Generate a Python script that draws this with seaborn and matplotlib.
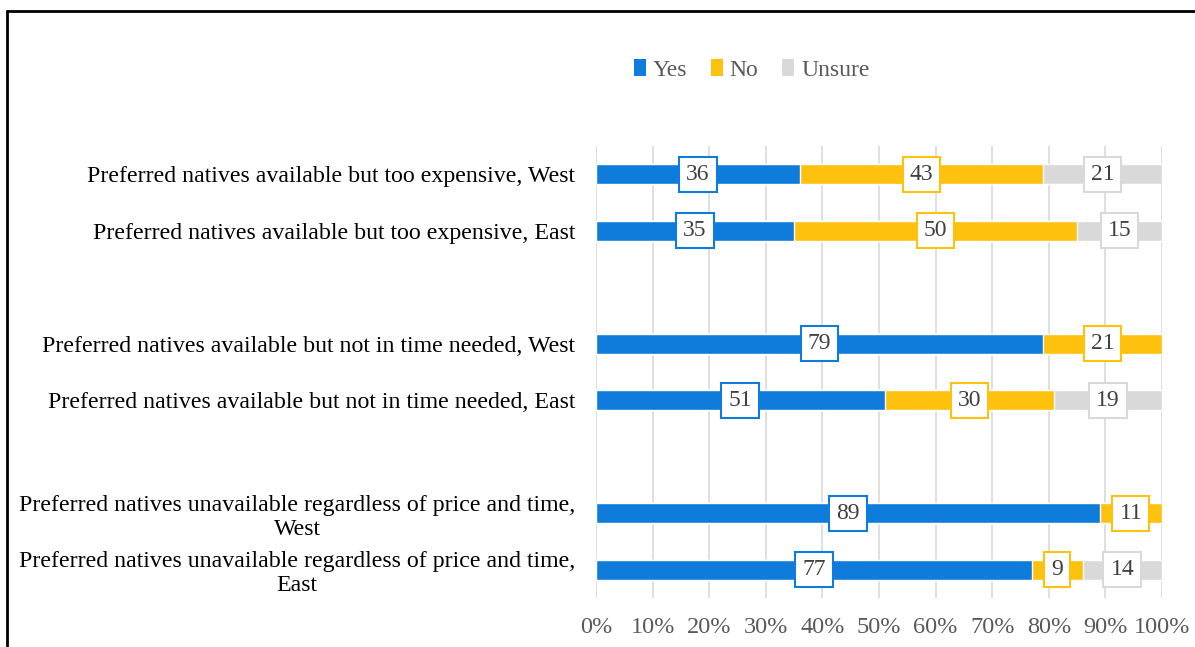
import pandas as pd
import seaborn as sns
import matplotlib.pyplot as plt
from matplotlib.lines import Line2D
from matplotlib.patches import Patch

# ---- data ----
rows = [
    "Preferred natives available but too expensive, West",
    "Preferred natives available but too expensive, East",
    " ",
    "Preferred natives available but not in time needed, West",
    "Preferred natives available but not in time needed, East",
    "  ",
    "Preferred natives unavailable regardless of price and time,\nWest",
    "Preferred natives unavailable regardless of price and time,\nEast",
]
categories = [r for r in rows if r.strip()]
yes = [36, 35, 79, 51, 89, 77]
no = [43, 50, 21, 30, 11, 9]
unsure = [21, 15, 0, 19, 0, 14]

series = ["Yes", "No", "Unsure"]
colors = {"Yes": "#0F7CDB", "No": "#FEC20E", "Unsure": "#D9D9D9"}

df = pd.DataFrame({"category": categories, "Yes": yes, "No": no, "Unsure": unsure})
df["cum_yes"] = df["Yes"]
df["cum_no"] = df["Yes"] + df["No"]
df["cum_unsure"] = df["cum_no"] + df["Unsure"]

sns.set_style("white")
plt.rcParams["font.family"] = ["Liberation Serif", "DejaVu Serif"]

fig = plt.figure(figsize=(11.95, 6.47), dpi=100)
ax = fig.add_axes([596 / 1195, 1 - 598 / 647, (1162 - 596) / 1195, (598 - 146) / 647])

bw = 0.355
# stacked bars drawn back to front from cumulative sums
for col, s in [("cum_unsure", "Unsure"), ("cum_no", "No"), ("cum_yes", "Yes")]:
    sns.barplot(data=df, x=col, y="category", order=rows, orient="h",
                color=colors[s], width=bw, saturation=1, ax=ax, zorder=2)

ax.set_xlim(0, 100)
ax.set_ylim(7.5, -0.5)
ax.set_xticks(range(0, 101, 10))
ax.set_xticklabels([f"{t}%" for t in range(0, 101, 10)], fontsize=17.5, color="#595959")
ax.set_yticks(range(len(rows)))
ax.set_yticklabels(rows, fontsize=17.2, color="black", multialignment="center")
ax.tick_params(axis="y", length=0, pad=15)
ax.tick_params(axis="x", length=0, pad=14)
ax.grid(axis="x", color="#D9D9D9", linewidth=1.2, zorder=0)
ax.set_axisbelow(True)
for sp in ax.spines.values():
    sp.set_visible(False)
ax.set_xlabel("")
ax.set_ylabel("")

# data labels in boxes
for i, r in df.iterrows():
    pos = rows.index(r["category"])
    start = 0
    for s in series:
        v = r[s]
        if v > 0:
            ax.text(start + v / 2, pos, f"{v}", ha="center", va="center", fontsize=17,
                    color="#404040", zorder=5,
                    bbox=dict(boxstyle="square,pad=0.3", fc="white", ec=colors[s], lw=1.5))
        start += v

handles = [Patch(facecolor=colors[s], edgecolor="none") for s in series]
fig.legend(handles, series, loc="center", bbox_to_anchor=(0.629, 1 - 70 / 647), ncol=3,
           frameon=False, fontsize=17, handlelength=0.5, handleheight=0.7,
           handletextpad=0.3, columnspacing=1.0, labelcolor="#595959")

# outer frame (top and left edges visible)
fig.add_artist(Line2D([7 / 1195, 1.0], [1 - 11 / 647, 1 - 11 / 647], color="black", lw=2,
                      transform=fig.transFigure))
fig.add_artist(Line2D([7 / 1195, 7 / 1195], [0, 1 - 11 / 647], color="black", lw=2,
                      transform=fig.transFigure))

fig.savefig("out.png", dpi=100)
